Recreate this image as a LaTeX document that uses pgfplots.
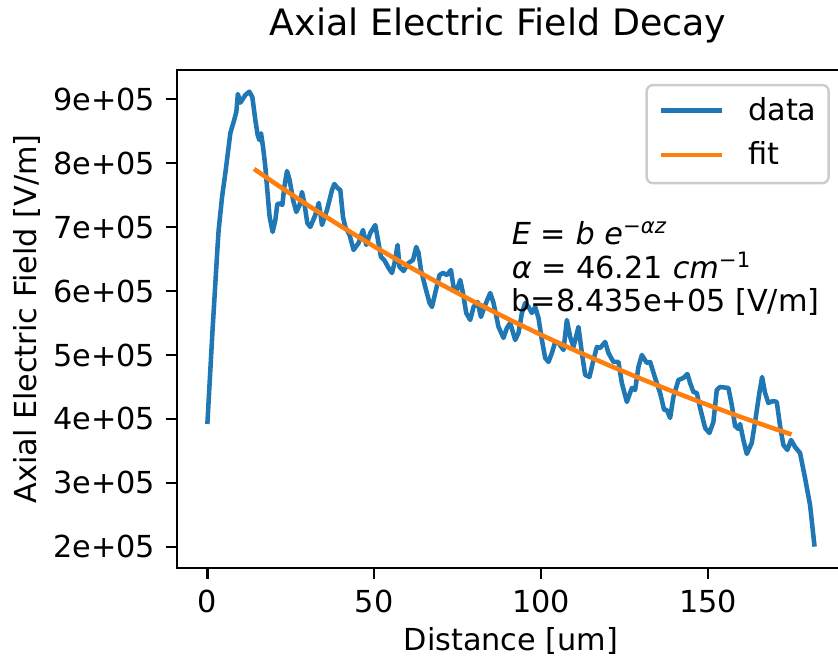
\documentclass[border=0pt]{standalone}
\usepackage{pgfplots}
\pgfplotsset{compat=1.18}
\usepackage{fontspec}
\setmainfont{DejaVu Sans}
\definecolor{mplblue}{HTML}{1F77B4}
\definecolor{mplorange}{HTML}{FF7F0E}
\begin{document}
\fontsize{10}{12}\selectfont
\begin{tikzpicture}
\path[use as bounding box] (-58.4pt,-31.0pt) rectangle (218.1pt,187.4pt);
\begin{axis}[
  scale only axis, width=220.4pt, height=164.3pt,
  xmin=-9.1, xmax=191.0, ymin=1.672e5, ymax=9.453e5,
  xtick={0,50,100,150},
  ytick={2e5,3e5,4e5,5e5,6e5,7e5,8e5,9e5},
  yticklabels={2e+05,3e+05,4e+05,5e+05,6e+05,7e+05,8e+05,9e+05},
  scaled y ticks=false, scaled x ticks=false,
  /pgf/number format/assume math mode=true,
  tick align=outside, major tick length=3.5pt,
  xtick pos=bottom, ytick pos=left,
  tick style={line width=0.8pt, black},
  axis line style={line width=0.8pt},
  xticklabel style={anchor=north, inner sep=0pt, yshift=-3.5pt},
  yticklabel style={anchor=east, inner sep=0pt, xshift=-3.5pt},
  every axis title/.style={at={(axis description cs:0.4805,1.0688)}, anchor=base, font=\fontsize{12}{14.4}\selectfont},
  title={Axial Electric Field Decay},
  every axis x label/.style={at={(axis description cs:0.5,-0.165)}, anchor=base},
  every axis y label/.style={at={(axis description cs:-0.2096,0.5)}, rotate=90, anchor=base},
  xlabel={Distance [um]},
  ylabel={Axial Electric Field [V/m]},
  legend cell align=left,
  legend image code/.code={\draw[#1, line width=1.5pt] (0pt,0.4pt) -- (20pt,0.4pt);},
  legend style={at={(1,1)}, anchor=north east, xshift=-5pt, yshift=-4.6pt,
    draw=black!20, line width=0.8pt, rounded corners=2pt, fill=white, fill opacity=0.8, text opacity=1,
    inner sep=4pt, row sep=5pt, column sep=8pt,
    nodes={inner sep=0pt, text height=7.6pt, text depth=2.05pt}},
]
\addplot[mplblue, line width=1.5pt, line join=round] table {
z E
0 3.922e5
1.50 5.344e5
2.99 6.641e5
3.38 6.953e5
4.40 7.469e5
5.39 7.844e5
6.89 8.469e5
7.78 8.625e5
8.68 8.797e5
9.13 9.078e5
9.88 8.942e5
11.38 9.062e5
12.57 9.114e5
13.47 9.031e5
14.37 8.672e5
15.06 8.438e5
15.57 8.359e5
16.08 8.464e5
16.68 8.250e5
17.37 7.938e5
17.87 7.625e5
18.65 7.156e5
19.55 6.922e5
20.36 7.109e5
20.96 7.359e5
21.86 7.367e5
22.46 7.344e5
23.05 7.625e5
23.86 7.875e5
24.64 7.734e5
25.66 7.422e5
26.65 7.234e5
27.63 7.344e5
28.35 7.547e5
29.04 7.375e5
29.94 7.062e5
30.84 7.000e5
32.34 7.188e5
33.38 7.375e5
34.34 7.031e5
35.84 7.266e5
37.34 7.578e5
38.02 7.672e5
39.01 7.609e5
39.82 7.578e5
40.63 7.156e5
41.32 7.000e5
42.60 6.875e5
43.80 6.641e5
45.30 6.750e5
46.62 6.953e5
47.60 6.719e5
48.80 6.906e5
50.30 7.031e5
51.11 6.797e5
52.01 6.531e5
52.99 6.484e5
54.28 6.359e5
55.30 6.281e5
56.08 6.438e5
56.98 6.719e5
57.57 6.375e5
58.77 6.312e5
60.27 6.438e5
61.59 6.484e5
62.57 6.688e5
63.26 6.594e5
63.98 6.328e5
65.27 6.062e5
66.56 5.812e5
67.28 5.750e5
68.26 5.969e5
69.55 6.250e5
70.57 6.281e5
71.77 6.250e5
72.96 6.328e5
73.74 6.062e5
74.76 6.016e5
75.75 6.172e5
76.56 5.969e5
77.54 5.656e5
78.74 5.547e5
79.73 5.750e5
80.93 5.828e5
81.95 5.594e5
83.23 5.781e5
84.73 5.969e5
85.72 5.812e5
87.22 5.438e5
88.71 5.266e5
89.73 5.422e5
90.72 5.500e5
92.22 5.234e5
93.20 5.344e5
94.22 5.656e5
95.21 5.812e5
96.20 5.750e5
97.22 5.656e5
98.20 5.750e5
99.19 5.578e5
100.21 5.234e5
101.20 4.953e5
102.19 4.891e5
103.20 5.031e5
104.19 5.203e5
105.18 5.188e5
106.68 5.078e5
107.69 5.547e5
108.68 5.281e5
109.67 5.125e5
111.17 5.438e5
112.19 5.031e5
113.17 4.688e5
114.46 4.656e5
115.66 4.922e5
116.68 5.125e5
117.66 5.109e5
119.16 5.203e5
120.15 5.031e5
121.65 4.891e5
123.14 4.891e5
124.16 4.562e5
125.66 4.266e5
127.16 4.484e5
128.14 4.453e5
129.13 4.812e5
130.15 5.000e5
131.65 4.875e5
132.63 4.891e5
134.13 4.641e5
135.63 4.406e5
136.83 4.141e5
137.63 4.141e5
138.62 4.016e5
139.61 4.344e5
141.11 4.609e5
142.60 4.641e5
143.80 4.703e5
144.61 4.562e5
145.60 4.422e5
146.62 4.406e5
147.60 4.172e5
149.10 3.859e5
150.39 3.781e5
151.59 3.953e5
152.60 4.453e5
153.59 4.500e5
156.08 4.484e5
157.10 4.219e5
158.08 3.891e5
159.07 3.844e5
159.58 3.922e5
160.57 3.672e5
161.59 3.453e5
163.08 3.625e5
164.07 3.953e5
165.36 4.406e5
166.17 4.656e5
167.07 4.406e5
168.05 4.250e5
169.46 4.281e5
170.57 4.266e5
171.56 3.891e5
172.54 3.594e5
173.74 3.516e5
174.85 3.672e5
176.05 3.562e5
177.54 3.469e5
179.04 3.078e5
180.54 2.656e5
181.89 2.005e5
};
\addlegendentry{data}
\addplot[mplorange, line width=1.5pt, line join=round] coordinates {
(14,7.9066e5) (20,7.6904e5) (30,7.3431e5) (40,7.0115e5) (50,6.6949e5)
(60,6.3926e5) (70,6.1039e5) (80,5.8283e5) (90,5.5651e5) (100,5.3138e5)
(110,5.0738e5) (120,4.8447e5) (130,4.6260e5) (140,4.4171e5) (150,4.2175e5)
(160,4.0270e5) (170,3.8452e5) (175,3.7574e5)
};
\addlegendentry{fit}
\node[anchor=base west, inner sep=0pt] at (axis cs:91,6.719e5) {\textit{E} = \textit{b} \textit{e}\textsuperscript{−\textit{αz}}};
\node[anchor=base west, inner sep=0pt] at (axis cs:91,6.198e5) {\textit{α} = 46.21 \textit{cm}\textsuperscript{−1}};
\node[anchor=base west, inner sep=0pt] at (axis cs:91,5.677e5) {b=8.435e+05 [V/m]};
\end{axis}
\end{tikzpicture}
\end{document}
